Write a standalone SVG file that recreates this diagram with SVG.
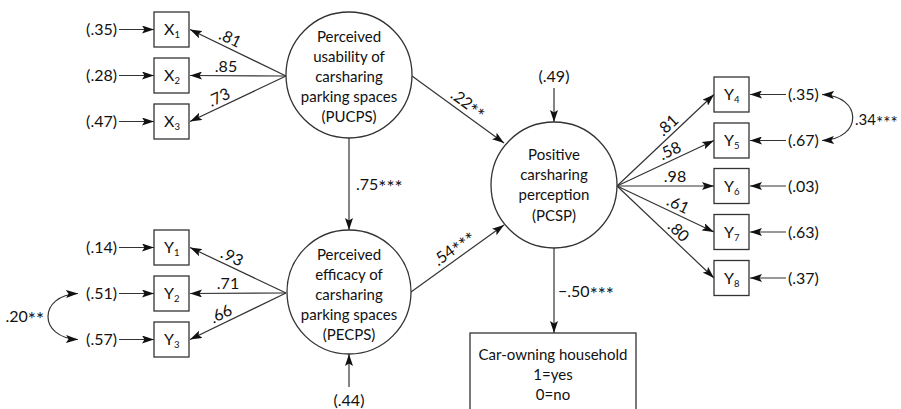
<svg xmlns="http://www.w3.org/2000/svg" width="901" height="409" viewBox="0 0 901 409">
<defs>
<style>
text{font-family:Lato,"Liberation Sans",sans-serif;font-size:16px;fill:#111}
.n{font-size:15px;text-anchor:middle}
.m{text-anchor:middle}
.e{text-anchor:end}
.sub{font-size:9.5px}
.st{font-size:19px}
.box{fill:#fff;stroke:#333;stroke-width:1.3}
.ln{fill:none;stroke:#333;stroke-width:1.2}
</style>
<marker id="a" viewBox="0 0 12 8" refX="12" refY="4" markerWidth="12" markerHeight="8" markerUnits="userSpaceOnUse" orient="auto-start-reverse">
<path d="M0,0 L12,4 L0,8 L2.5,4 z" fill="#111"/>
</marker>
</defs>
<rect width="901" height="409" fill="#fff"/>

<g id="connectors" class="ln" marker-end="url(#a)">
<line x1="286" y1="76" x2="190" y2="29.5"/>
<line x1="286" y1="76" x2="190" y2="75.5"/>
<line x1="286" y1="76" x2="190" y2="121.5"/>
<line x1="119" y1="29.5" x2="154" y2="29.5"/>
<line x1="119" y1="75.5" x2="154" y2="75.5"/>
<line x1="119" y1="121.5" x2="154" y2="121.5"/>
<line x1="286" y1="293" x2="190" y2="247.5"/>
<line x1="286" y1="293" x2="190" y2="293.5"/>
<line x1="286" y1="293" x2="190" y2="339.5"/>
<line x1="119" y1="247.5" x2="154" y2="247.5"/>
<line x1="119" y1="293.5" x2="154" y2="293.5"/>
<line x1="119" y1="339.5" x2="154" y2="339.5"/>
<path d="M78,293.5 C38,295 38,338 78,339.5" marker-start="url(#a)"/>
<line x1="349" y1="138" x2="349" y2="230"/>
<line x1="349" y1="387" x2="349" y2="354"/>
<line x1="412" y1="76" x2="504" y2="143"/>
<line x1="411" y1="292" x2="504" y2="225"/>
<line x1="554" y1="88" x2="554" y2="122"/>
<line x1="554" y1="248" x2="554" y2="333"/>
<line x1="617" y1="186" x2="714" y2="94.5"/>
<line x1="617" y1="186" x2="714" y2="140.5"/>
<line x1="617" y1="186" x2="714" y2="186"/>
<line x1="617" y1="186" x2="714" y2="232"/>
<line x1="617" y1="186" x2="714" y2="278"/>
<line x1="786" y1="94.5" x2="750" y2="94.5"/>
<line x1="786" y1="140.5" x2="750" y2="140.5"/>
<line x1="786" y1="186" x2="750" y2="186"/>
<line x1="786" y1="232" x2="750" y2="232"/>
<line x1="786" y1="278" x2="750" y2="278"/>
<path d="M822,94.5 C863,96 863,139 822,140.5" marker-start="url(#a)"/>
</g>

<g id="labels">
<text class="m" y="-4" transform="translate(226 46.9) rotate(25.8)">.81</text>
<text x="226" y="72" class="m">.85</text>
<text class="m" y="-4" transform="translate(223 105.9) rotate(-25.4)">.73</text>
<text class="m" y="-4" transform="translate(228 265.5) rotate(25.4)">.93</text>
<text x="228" y="289" class="m">.71</text>
<text class="m" y="-4" transform="translate(225 322.5) rotate(-25.8)">.66</text>
<text x="44" y="322" class="e">.20<tspan class="st" dy="4">**</tspan></text>
<text class="m" y="-5" transform="translate(462 112.4) rotate(36.1)">.22<tspan class="st" dy="4">**</tspan></text>
<text x="356" y="190">.75<tspan class="st" dy="4">***</tspan></text>
<text class="m" y="-5" transform="translate(460 256.7) rotate(-36.2)">.54<tspan class="st" dy="4">***</tspan></text>
<text x="558" y="297">−.50<tspan class="st" dy="4">***</tspan></text>
<text class="m" y="-4" transform="translate(674 132.2) rotate(-43.3)">.81</text>
<text class="m" y="-4" transform="translate(674 159.3) rotate(-25.1)">.58</text>
<text x="675" y="182" class="m">.98</text>
<text class="m" y="-4" transform="translate(674 213) rotate(25.4)">.61</text>
<text class="m" y="-4" transform="translate(672 238.2) rotate(43.5)">.80</text>
<text x="855" y="125" style="font-size:15px">.34<tspan style="font-size:17px" dy="4">***</tspan></text>
<text x="117" y="35" class="e">(.35)</text>
<text x="117" y="81" class="e">(.28)</text>
<text x="117" y="127" class="e">(.47)</text>
<text x="117" y="253" class="e">(.14)</text>
<text x="117" y="299" class="e">(.51)</text>
<text x="117" y="345" class="e">(.57)</text>
<text x="554" y="82" class="m">(.49)</text>
<text x="349" y="406" class="m">(.44)</text>
<text x="788" y="100">(.35)</text>
<text x="788" y="146">(.67)</text>
<text x="788" y="191.5">(.03)</text>
<text x="788" y="237.5">(.63)</text>
<text x="788" y="283.5">(.37)</text>
</g>

<g id="X1"><rect class="box" x="154" y="12" width="35" height="35"/><text x="164" y="35">X<tspan class="sub" dy="3">1</tspan></text></g>
<g id="X2"><rect class="box" x="154" y="58" width="35" height="35"/><text x="164" y="81">X<tspan class="sub" dy="3">2</tspan></text></g>
<g id="X3"><rect class="box" x="154" y="104" width="35" height="35"/><text x="164" y="127">X<tspan class="sub" dy="3">3</tspan></text></g>
<g id="Y1"><rect class="box" x="154" y="230" width="35" height="35"/><text x="164" y="253">Y<tspan class="sub" dy="3">1</tspan></text></g>
<g id="Y2"><rect class="box" x="154" y="276" width="35" height="35"/><text x="164" y="299">Y<tspan class="sub" dy="3">2</tspan></text></g>
<g id="Y3"><rect class="box" x="154" y="322" width="35" height="35"/><text x="164" y="345">Y<tspan class="sub" dy="3">3</tspan></text></g>
<g id="Y4"><rect class="box" x="714" y="77" width="35" height="35"/><text x="724" y="100">Y<tspan class="sub" dy="3">4</tspan></text></g>
<g id="Y5"><rect class="box" x="714" y="123" width="35" height="35"/><text x="724" y="146">Y<tspan class="sub" dy="3">5</tspan></text></g>
<g id="Y6"><rect class="box" x="714" y="168.5" width="35" height="35"/><text x="724" y="191.5">Y<tspan class="sub" dy="3">6</tspan></text></g>
<g id="Y7"><rect class="box" x="714" y="214.5" width="35" height="35"/><text x="724" y="237.5">Y<tspan class="sub" dy="3">7</tspan></text></g>
<g id="Y8"><rect class="box" x="714" y="260.5" width="35" height="35"/><text x="724" y="283.5">Y<tspan class="sub" dy="3">8</tspan></text></g>

<g id="PUCPS"><circle class="box" cx="349" cy="75" r="63"/>
<text class="n" x="349" y="42">Perceived</text>
<text class="n" x="349" y="62">usability of</text>
<text class="n" x="349" y="82">carsharing</text>
<text class="n" x="349" y="102">parking spaces</text>
<text class="n" x="349" y="122">(PUCPS)</text></g>

<g id="PECPS"><circle class="box" cx="349" cy="292" r="62"/>
<text class="n" x="349" y="260">Perceived</text>
<text class="n" x="349" y="280">efficacy of</text>
<text class="n" x="349" y="300">carsharing</text>
<text class="n" x="349" y="320">parking spaces</text>
<text class="n" x="349" y="340">(PECPS)</text></g>

<g id="PCSP"><circle class="box" cx="554" cy="185" r="63"/>
<text class="n" x="554" y="160">Positive</text>
<text class="n" x="554" y="180">carsharing</text>
<text class="n" x="554" y="200">perception</text>
<text class="n" x="554" y="221">(PCSP)</text></g>

<g id="CarOwning"><rect class="box" x="470" y="333" width="166" height="90"/>
<text class="n" x="553" y="360">Car-owning household</text>
<text class="n" x="553" y="380">1=yes</text>
<text class="n" x="553" y="400">0=no</text></g>
</svg>
